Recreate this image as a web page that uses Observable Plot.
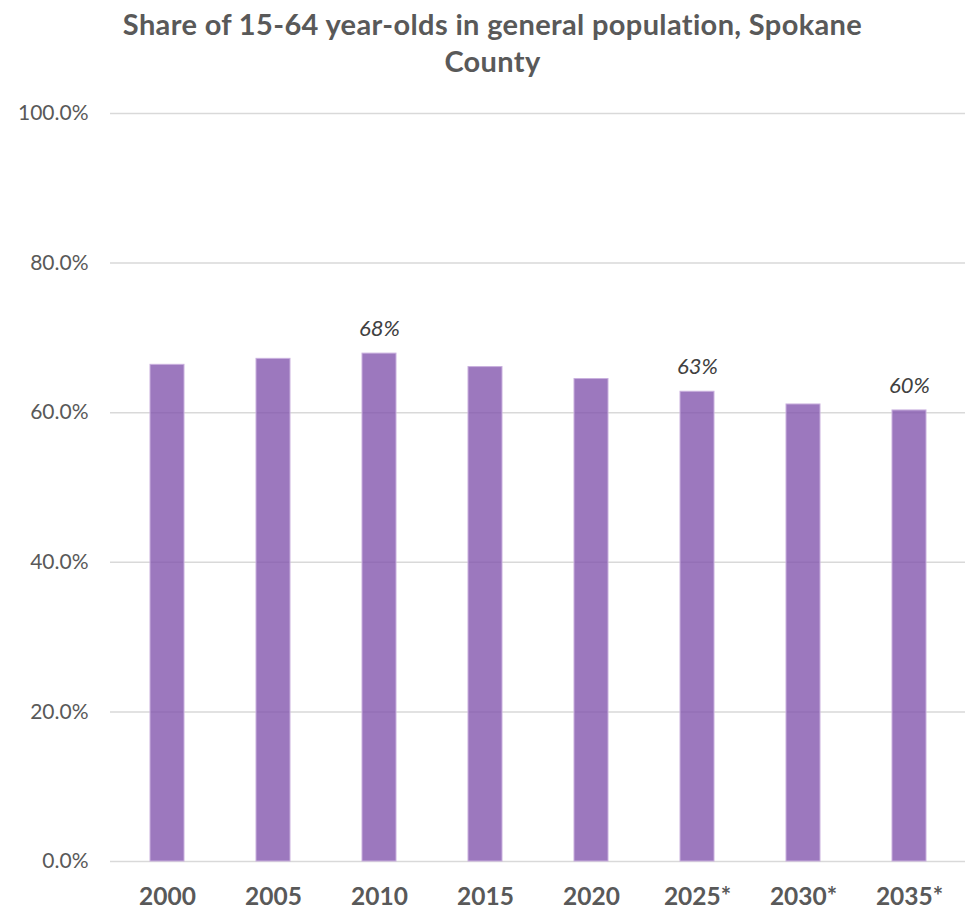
<!DOCTYPE html>
<html>
<head>
<meta charset="utf-8">
<script src="https://cdn.jsdelivr.net/npm/d3@7"></script>
<script src="https://cdn.jsdelivr.net/npm/@observablehq/plot@0.6"></script>
<style>
  body { margin: 0; background: #fff; font-family: Lato, "Open Sans", sans-serif; overflow: hidden; }
  #wrap { width: 965px; }
  #title { height: 85px; box-sizing: border-box; padding-top: 5px; text-align: center; font-weight: bold; font-size: 29px; line-height: 37px; letter-spacing: 0.35px; color: #595959; padding-left: 20px; }
</style>
</head>
<body>
<div id="wrap">
  <div id="title">Share of 15-64 year-olds in general population, Spokane<br>County</div>
  <div id="chart"></div>
</div>
<script>
const years = ["2000", "2005", "2010", "2015", "2020", "2025*", "2030*", "2035*"];
const shares = [0.664, 0.672, 0.679, 0.661, 0.645, 0.628, 0.611, 0.603];
const labels = ["", "", "68%", "", "", "63%", "", "60%"];
const yTicks = [0, 0.2, 0.4, 0.6, 0.8, 1.0];

const data = years.map((y, i) => ({year: y, share: shares[i], label: labels[i]}));

const chart = Plot.plot({
  width: 965,
  height: 825,
  marginTop: 28,
  marginBottom: 49,
  marginLeft: 110,
  marginRight: 0,
  style: {fontFamily: "Lato, 'Open Sans', sans-serif", background: "#fff"},
  x: {domain: years, paddingInner: 0.68, paddingOuter: 0.34, label: null},
  y: {domain: [0, 1], label: null},
  marks: [
    Plot.gridY(yTicks, {stroke: "#d9d9d9", strokeOpacity: 1, strokeWidth: 1.5}),
    Plot.barY(data, {x: "year", y: "share", fill: "#8052ac", fillOpacity: 0.78, stroke: "#c9b0de", strokeWidth: 1}),
    Plot.text(data.filter(d => d.label), {x: "year", y: "share", text: "label", dy: -25, fontSize: 22, fontStyle: "italic", fill: "#404040"}),
    Plot.axisY({ticks: yTicks, tickFormat: d => (d * 100).toFixed(1) + "%", tickSize: 0, tickPadding: 22, fontSize: 21, color: "#595959", fill: "#595959"}),
    Plot.axisX({tickSize: 0, tickPadding: 26, fontSize: 24.5, fontWeight: "bold", color: "#595959", fill: "#595959"})
  ]
});
document.getElementById("chart").appendChild(chart);
</script>
</body>
</html>
